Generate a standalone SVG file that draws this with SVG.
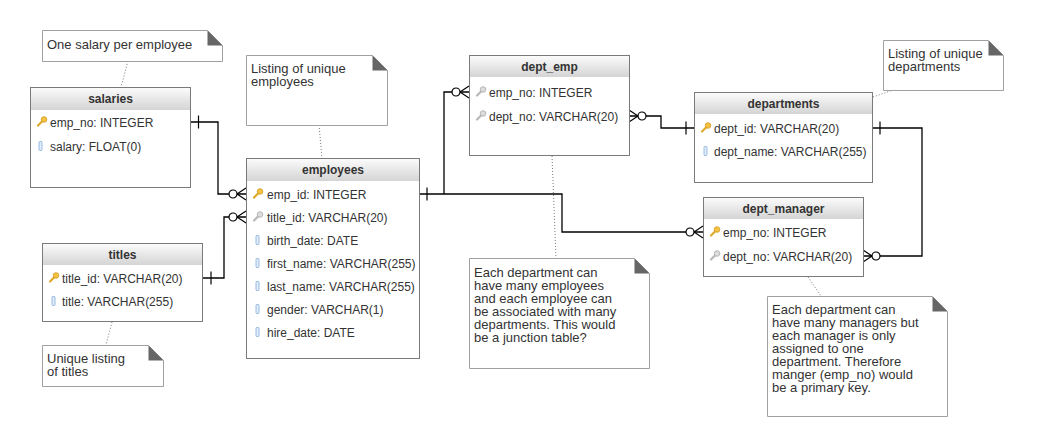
<svg xmlns="http://www.w3.org/2000/svg" xmlns:xlink="http://www.w3.org/1999/xlink" width="1042" height="446" viewBox="0 0 1042 446">
<style>
.box{fill:#fff;stroke:#7a7a7a;stroke-width:1}
.hdr{fill:url(#hg)}
.th{font-family:"Liberation Sans",Arial,sans-serif;font-size:12px;font-weight:bold;fill:#333;text-anchor:middle}
.td{font-family:"Liberation Sans",Arial,sans-serif;font-size:12px;fill:#333}
.nt{font-family:"Liberation Sans",Arial,sans-serif;font-size:13px;fill:#333}
.note{fill:#fff;stroke:#a0a0a0;stroke-width:1}
.fold{fill:#666}
.dot{fill:none;stroke:#777;stroke-width:1;stroke-dasharray:1 2}
.conn{fill:none;stroke:#000;stroke-width:1.3}
.sym{fill:#fff;stroke:#000;stroke-width:1.2}
</style>
<defs>
<linearGradient id="hg" x1="0" y1="0" x2="0" y2="1">
<stop offset="0" stop-color="#fbfbfb"/>
<stop offset="1" stop-color="#d4d4d4"/>
</linearGradient>
<g id="pk">
<line x1="1" y1="3.5" x2="6" y2="-1.5" stroke="#e0a92a" stroke-width="2.2" stroke-linecap="round"/>
<circle cx="7" cy="-2.5" r="2.8" fill="#f2c243" stroke="#d59b1f" stroke-width="0.8"/>
</g>
<g id="fk">
<line x1="1" y1="3.5" x2="6" y2="-1.5" stroke="#b8b8b8" stroke-width="2.2" stroke-linecap="round"/>
<circle cx="7" cy="-2.5" r="2.8" fill="#dcdcdc" stroke="#aaa" stroke-width="0.8"/>
</g>
<rect id="col" x="0" y="-4.5" width="3" height="9" rx="1" fill="#e4eefa" stroke="#7fa9dd" stroke-width="0.8"/>
<g id="zm">
<line class="sym" x1="-9" y1="0" x2="0" y2="-6"/>
<line class="sym" x1="-9" y1="0" x2="0" y2="6"/>
<circle class="sym" cx="-13" cy="0" r="4"/>
</g>
<g id="one">
<line class="sym" x1="-8" y1="-6.5" x2="-8" y2="6.5"/>
</g>
</defs>
<rect width="1042" height="446" fill="#fff"/>

<g id="connectors">
<path class="conn" d="M190.5,122 H218 V194 H246"/>
<path class="conn" d="M203,278 H224 V217 H246"/>
<path class="conn" d="M419,194 H562 V232 H703"/>
<path class="conn" d="M444,194 V92 H469"/>
<path class="conn" d="M629,116 H661 V128 H694"/>
<path class="conn" d="M872,128 H922 V256 H863"/>
<use href="#one" transform="translate(190.5,122) scale(-1,1)"/>
<use href="#zm" transform="translate(246,194)"/>
<use href="#one" transform="translate(203,278) scale(-1,1)"/>
<use href="#zm" transform="translate(246,217)"/>
<use href="#one" transform="translate(419,194) scale(-1,1)"/>
<use href="#zm" transform="translate(469,92)"/>
<use href="#zm" transform="translate(703,232)"/>
<use href="#zm" transform="translate(629,116) scale(-1,1)"/>
<use href="#one" transform="translate(694,128)"/>
<use href="#one" transform="translate(872,128) scale(-1,1)"/>
<use href="#zm" transform="translate(863,256) scale(-1,1)"/>
</g>

<g id="notelinks">
<line class="dot" x1="128" y1="61" x2="121" y2="87"/>
<line class="dot" x1="112" y1="322" x2="106" y2="345"/>
<line class="dot" x1="319" y1="125" x2="322" y2="158"/>
<line class="dot" x1="552" y1="156" x2="556" y2="258"/>
<line class="dot" x1="873" y1="97" x2="893" y2="90"/>
<line class="dot" x1="808" y1="277" x2="821" y2="296"/>
</g>

<g id="salaries">
<rect class="box" x="30.5" y="87.5" width="160" height="100"/>
<rect class="hdr" x="31" y="88" width="159" height="22"/>
<text class="th" x="110.5" y="103">salaries</text>
<use href="#pk" x="37" y="122"/>
<text class="td" x="50" y="126.5">emp_no: INTEGER</text>
<use href="#col" x="39" y="146"/>
<text class="td" x="50" y="150.5">salary: FLOAT(0)</text>
</g>

<g id="titles">
<rect class="box" x="42.5" y="243.5" width="160" height="78"/>
<rect class="hdr" x="43" y="244" width="159" height="21"/>
<text class="th" x="122.5" y="258.5">titles</text>
<use href="#pk" x="49" y="278"/>
<text class="td" x="62" y="282.5">title_id: VARCHAR(20)</text>
<use href="#col" x="52" y="301"/>
<text class="td" x="62" y="305.5">title: VARCHAR(255)</text>
</g>

<g id="employees">
<rect class="box" x="246.5" y="158.5" width="173" height="200"/>
<rect class="hdr" x="247" y="159" width="172" height="22"/>
<text class="th" x="333" y="174">employees</text>
<use href="#pk" x="253" y="194"/>
<text class="td" x="267" y="198.5">emp_id: INTEGER</text>
<use href="#fk" x="253" y="217"/>
<text class="td" x="267" y="221.5">title_id: VARCHAR(20)</text>
<use href="#col" x="256" y="240"/>
<text class="td" x="267" y="244.5">birth_date: DATE</text>
<use href="#col" x="256" y="263"/>
<text class="td" x="267" y="267.5">first_name: VARCHAR(255)</text>
<use href="#col" x="256" y="286"/>
<text class="td" x="267" y="290.5">last_name: VARCHAR(255)</text>
<use href="#col" x="256" y="309"/>
<text class="td" x="267" y="313.5">gender: VARCHAR(1)</text>
<use href="#col" x="256" y="332"/>
<text class="td" x="267" y="336.5">hire_date: DATE</text>
</g>

<g id="dept_emp">
<rect class="box" x="469.5" y="55.5" width="160" height="100"/>
<rect class="hdr" x="470" y="56" width="159" height="21"/>
<text class="th" x="549.5" y="71">dept_emp</text>
<use href="#fk" x="476" y="92"/>
<text class="td" x="489" y="96.5">emp_no: INTEGER</text>
<use href="#fk" x="476" y="116"/>
<text class="td" x="489" y="120.5">dept_no: VARCHAR(20)</text>
</g>

<g id="departments">
<rect class="box" x="694.5" y="92.5" width="178" height="90"/>
<rect class="hdr" x="695" y="93" width="177" height="21"/>
<text class="th" x="783.5" y="108">departments</text>
<use href="#pk" x="701" y="128"/>
<text class="td" x="714" y="132.5">dept_id: VARCHAR(20)</text>
<use href="#col" x="704" y="151"/>
<text class="td" x="714" y="155.5">dept_name: VARCHAR(255)</text>
</g>

<g id="dept_manager">
<rect class="box" x="703.5" y="197.5" width="160" height="79"/>
<rect class="hdr" x="704" y="198" width="159" height="21"/>
<text class="th" x="783.5" y="212.5">dept_manager</text>
<use href="#pk" x="710" y="232"/>
<text class="td" x="723" y="236.5">emp_no: INTEGER</text>
<use href="#fk" x="710" y="256"/>
<text class="td" x="723" y="260.5">dept_no: VARCHAR(20)</text>
</g>

<g id="note_salaries">
<path class="note" d="M42.5,30.5 H207.5 L222.5,45.5 V61.5 H42.5 Z"/>
<path class="fold" d="M207.5,30.5 V45.5 H222.5 Z"/>
<text class="nt" x="47" y="48.5">One salary per employee</text>
</g>

<g id="note_employees">
<path class="note" d="M246.5,55.5 H372.5 L387.5,70.5 V125.5 H246.5 Z"/>
<path class="fold" d="M372.5,55.5 V70.5 H387.5 Z"/>
<text class="nt" x="251" y="73">Listing of unique</text>
<text class="nt" x="251" y="86">employees</text>
</g>

<g id="note_titles">
<path class="note" d="M42.5,345.5 H148.5 L163.5,360.5 V386.5 H42.5 Z"/>
<path class="fold" d="M148.5,345.5 V360.5 H163.5 Z"/>
<text class="nt" x="47" y="363">Unique listing</text>
<text class="nt" x="47" y="376">of titles</text>
</g>

<g id="note_departments">
<path class="note" d="M883.5,40.5 H988.5 L1003.5,55.5 V90.5 H883.5 Z"/>
<path class="fold" d="M988.5,40.5 V55.5 H1003.5 Z"/>
<text class="nt" x="888" y="58">Listing of unique</text>
<text class="nt" x="888" y="71">departments</text>
</g>

<g id="note_dept_emp">
<path class="note" d="M469.5,258.5 H634.5 L649.5,273.5 V368.5 H469.5 Z"/>
<path class="fold" d="M634.5,258.5 V273.5 H649.5 Z"/>
<text class="nt" x="474" y="277">Each department can</text>
<text class="nt" x="474" y="290">have many employees</text>
<text class="nt" x="474" y="303">and each employee can</text>
<text class="nt" x="474" y="316">be associated with many</text>
<text class="nt" x="474" y="329">departments. This would</text>
<text class="nt" x="474" y="342">be a junction table?</text>
</g>

<g id="note_dept_manager">
<path class="note" d="M767.5,296.5 H932.5 L947.5,311.5 V416.5 H767.5 Z"/>
<path class="fold" d="M932.5,296.5 V311.5 H947.5 Z"/>
<text class="nt" x="772" y="314">Each department can</text>
<text class="nt" x="772" y="327">have many managers but</text>
<text class="nt" x="772" y="340">each manager is only</text>
<text class="nt" x="772" y="353">assigned to one</text>
<text class="nt" x="772" y="366">department. Therefore</text>
<text class="nt" x="772" y="379">manger (emp_no) would</text>
<text class="nt" x="772" y="392">be a primary key.</text>
</g>
</svg>
